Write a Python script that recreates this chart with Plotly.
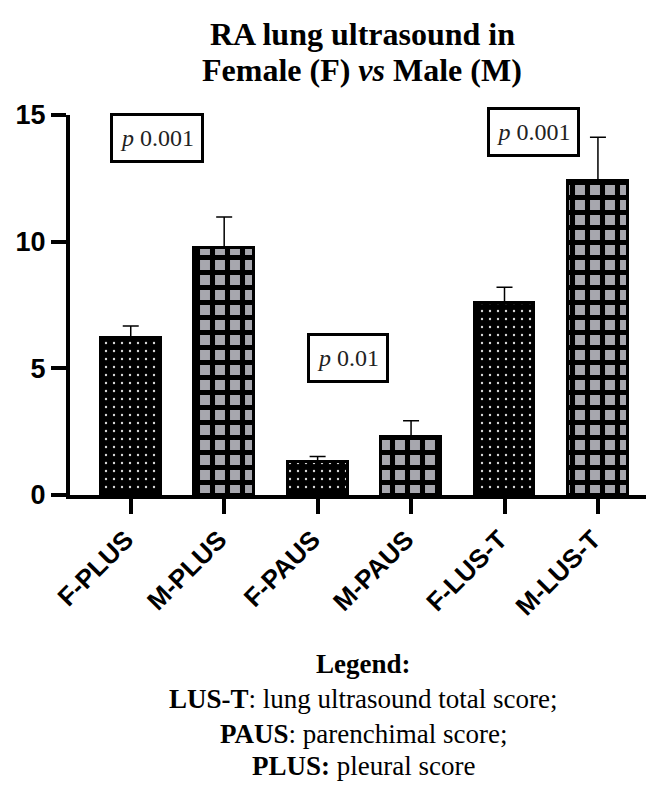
import plotly.graph_objects as go

categories = ["F-PLUS", "M-PLUS", "F-PAUS", "M-PAUS", "F-LUS-T", "M-LUS-T"]
means = [6.2, 9.75, 1.3, 2.3, 7.58, 12.4]
err_up = [0.47, 1.22, 0.22, 0.63, 0.62, 1.72]
sex = ["F", "M", "F", "M", "F", "M"]

p_labels = ["<i>p</i> 0.001", "<i>p</i> 0.01", "<i>p</i> 0.001"]
p_x = [0.28, 2.33, 4.31]
p_y = [14.11, 5.41, 14.31]
p_w = [80, 68, 79]

y_ticks = [0, 5, 10, 15]

title_lines = ["<b>RA lung ultrasound in</b>", "<b>Female (F) <i>vs</i> Male (M)</b>"]
legend_lines = ["<b>Legend:</b>",
                "<b>LUS-T</b>: lung ultrasound total score;",
                "<b>PAUS</b>: parenchimal score;",
                "<b>PLUS:</b> pleural score"]

serif = "Liberation Serif"
sans = "Liberation Sans, Arial"

# page has an 8px body margin; figure is sized so the plot lands where the reference has it
OFF = 8
W, H = 654 - OFF, 787 - OFF
L, R, T = 70 - OFF, 0, 115 - OFF
B = H - (495 - OFF)


def px_to_paper(xp, yp):
    xf, yf = xp - OFF, yp - OFF
    return (xf - L) / (W - L - R), (H - B - yf) / (H - T - B)


fig = go.Figure()

x_idx = list(range(len(categories)))
for group, shape, bg, fg, size, sol in [
    ("F", ".", "black", "#d8d8d8", 8, 0.07),
    ("M", "+", "#a7a7ae", "black", 15, 0.56),
]:
    xs = [i for i, s in zip(x_idx, sex) if s == group]
    ys = [m for m, s in zip(means, sex) if s == group]
    es = [e for e, s in zip(err_up, sex) if s == group]
    fig.add_trace(go.Bar(
        x=xs, y=ys, width=0.64,
        marker=dict(color=bg, line=dict(color="black", width=3),
                    pattern=dict(shape=shape, bgcolor=bg, fgcolor=fg,
                                 size=size, solidity=sol, fillmode="replace")),
        error_y=dict(type="data", symmetric=False, array=es,
                     arrayminus=[0] * len(es), color="black",
                     thickness=1.5, width=8),
        showlegend=False,
    ))

for txt, ax, ay, w in zip(p_labels, p_x, p_y, p_w):
    fig.add_annotation(x=ax, y=ay, xref="x", yref="y", text=txt,
                       showarrow=False, font=dict(family=serif, size=24, color="#222"),
                       bordercolor="black", borderwidth=3, borderpad=4,
                       bgcolor="white", width=w, height=36)

for t, yy in zip(title_lines, [34, 70]):
    ax, ay = px_to_paper(362, yy)
    fig.add_annotation(x=ax, y=ay, xref="paper", yref="paper", text=t,
                       showarrow=False, font=dict(family=serif, size=32, color="black"),
                       xanchor="center", yanchor="middle")

for t, yy in zip(legend_lines, [664, 699, 734, 766]):
    ax, ay = px_to_paper(363, yy)
    fig.add_annotation(x=ax, y=ay, xref="paper", yref="paper", text=t,
                       showarrow=False, font=dict(family=serif, size=27, color="black"),
                       xanchor="center", yanchor="middle", borderpad=0)

fig.update_layout(
    width=W, height=H,
    margin=dict(l=L, r=R, t=T, b=B, autoexpand=False),
    plot_bgcolor="white", paper_bgcolor="white",
    barmode="overlay",
    bargap=0,
)
fig.update_xaxes(range=[-0.65, 5.6], tickvals=x_idx, ticktext=categories,
                 tickangle=-45, showline=True, linecolor="black", linewidth=4,
                 ticks="outside", ticklen=15, tickwidth=4, tickcolor="black",
                 showgrid=False, zeroline=False, automargin=False,
                 ticklabelshift=-5,
                 tickfont=dict(family=sans, size=26, color="black", weight="bold"))
fig.update_yaxes(range=[0, 15], tickvals=y_ticks, showline=True, linecolor="black",
                 linewidth=4, ticks="outside", ticklen=15, tickwidth=4,
                 tickcolor="black", showgrid=False, zeroline=False, automargin=False,
                 tickfont=dict(family=sans, size=27, color="black", weight="bold"))

fig.write_html("out.html")
